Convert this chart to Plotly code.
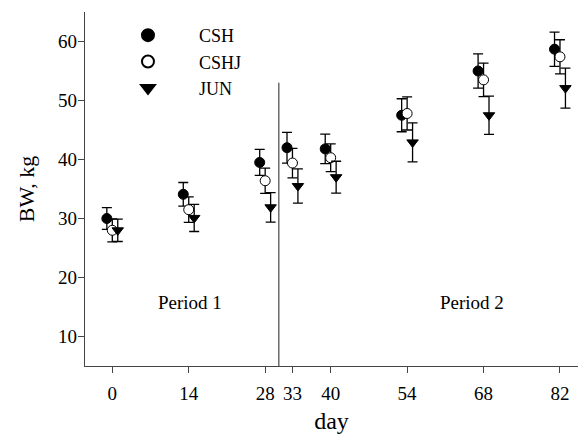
import plotly.graph_objects as go

days = [0, 14, 28, 33, 40, 54, 68, 82]
tick_labels = ["0", "14", "28", "33", "40", "54", "68", "82"]

csh = [30.0, 34.1, 39.5, 42.0, 41.8, 47.5, 55.0, 58.7]
csh_err = [1.85, 2.0, 2.2, 2.6, 2.5, 2.8, 2.9, 2.9]
cshj = [28.0, 31.5, 36.4, 39.4, 40.3, 47.8, 53.5, 57.4]
cshj_err = [1.95, 2.15, 2.15, 2.5, 2.35, 2.8, 2.85, 2.9]
jun = [28.0, 30.1, 31.9, 35.5, 37.0, 42.9, 47.5, 52.1]
jun_err = [1.9, 2.3, 2.5, 2.9, 2.7, 3.3, 3.25, 3.4]

offsets = {"CSH": -1.0, "CSHJ": 0.0, "JUN": 1.0}

FONT = "Liberation Serif"

fig = go.Figure()

def add(name, vals, errs, symbol, fill, group):
    fig.add_trace(go.Scatter(
        x=[d + offsets[name] for d in days], y=vals, name=name, mode="markers",
        legendgroup=group,
        marker=dict(symbol=symbol, size=10, color=fill, line=dict(color="black", width=1)),
        error_y=dict(type="data", array=errs, visible=True, color="black", thickness=1.3, width=5),
    ))

add("CSH", csh, csh_err, "circle", "black", "a")
add("CSHJ", cshj, cshj_err, "circle", "white", "b")
add("JUN", jun, jun_err, "triangle-down", "black", "c")

fig.add_shape(type="line", x0=30.5, x1=30.5, y0=5, y1=53, xref="x", yref="y",
              line=dict(color="#555555", width=1.3))

fig.add_annotation(x=14.3, y=15.8, text="Period 1", showarrow=False,
                   font=dict(family=FONT, size=19, color="black"))
fig.add_annotation(x=65.8, y=15.8, text="Period 2", showarrow=False,
                   font=dict(family=FONT, size=19, color="black"))

fig.update_layout(
    width=578, height=436,
    margin=dict(l=85, r=0, t=12, b=70),
    plot_bgcolor="white", paper_bgcolor="white",
    font=dict(family=FONT, size=18, color="black"),
    showlegend=True,
    legend=dict(x=0.0243, y=0.986, xanchor="left", yanchor="top",
                bgcolor="rgba(0,0,0,0)", font=dict(family=FONT, size=18),
                itemwidth=92, tracegroupgap=0, itemsizing="constant"),
    xaxis=dict(range=[-5, 85.3], tickmode="array", tickvals=days, ticktext=tick_labels,
               showgrid=False, zeroline=False, showline=True, linecolor="#444444", linewidth=1.3,
               ticks="outside", ticklen=6, tickcolor="#444444", ticklabelstandoff=4,
               tickfont=dict(family=FONT, size=19),
               title=dict(text="day", font=dict(family=FONT, size=24), standoff=9)),
    yaxis=dict(range=[5, 65], tickvals=[10, 20, 30, 40, 50, 60],
               showgrid=False, zeroline=False, showline=True, linecolor="#444444", linewidth=1.3,
               ticks="outside", ticklen=6, tickcolor="#444444", ticklabelstandoff=-3,
               tickfont=dict(family=FONT, size=19),
               title=dict(text="BW, kg", font=dict(family=FONT, size=22), standoff=17)),
)

fig.write_html("out.html")
